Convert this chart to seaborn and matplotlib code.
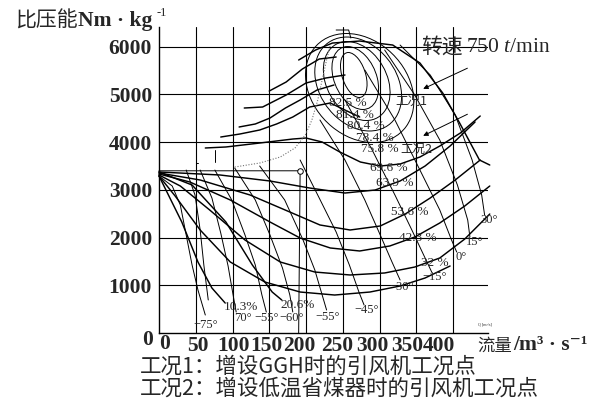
import matplotlib
matplotlib.use("Agg")
import matplotlib.pyplot as plt
import matplotlib.transforms as mtransforms
from matplotlib.patches import Ellipse
import seaborn as sns
import pandas as pd

# ---------------- data (flow m3/s, specific energy Nm/kg) ----------------
x_ticks = [50, 100, 150, 200, 250, 300, 350, 400]
y_ticks = [1000, 2000, 3000, 4000, 5000, 6000]

# inner efficiency islands: centre flow, centre energy, width, height, tilt
eff_island_labels = ["82.5 %", "81.4 %", "80.4 %", "78.4 %", "75.8 %"]
eff_island_cx = [265, 267, 269, 271, 273]
eff_island_cy = [5408, 5345, 5282, 5219, 5135]
eff_island_w = [33, 60, 87, 114, 143]
eff_island_h = [943, 1320, 1656, 1970, 2285]
eff_island_tilt = [0.9, 0.9, 0.9, 0.9, 0.9]
eff_island_lab_x = [257, 267, 282, 294, 301]
eff_island_lab_y = [4821, 4569, 4339, 4087, 3857]

# open efficiency curves
eff_open = {
    "69.6 %": ([63, 91, 137, 182, 200, 222, 246, 274, 301, 328, 355, 382, 410, 437],
               [3878, 3899, 3982, 4066, 4087, 4003, 3794, 3584, 3500, 3542, 3689, 3919, 4192, 4548]),
    "63.9 %": ([0, 83, 151, 205, 253, 294, 328, 362, 396, 430],
               [3375, 3312, 3186, 3039, 2934, 2997, 3186, 3500, 3919, 4423]),
    "53.6 %": ([0, 56, 124, 178, 219, 260, 301, 335, 369, 403, 437],
               [3354, 3207, 2892, 2536, 2264, 2159, 2243, 2494, 2830, 3207, 3626]),
    "42.3 %": ([0, 42, 97, 151, 192, 233, 273, 314, 348, 382, 416, 450],
               [3333, 3165, 2788, 2327, 1991, 1782, 1719, 1824, 2012, 2306, 2662, 3081]),
    "32 %": ([0, 29, 69, 117, 165, 212, 260, 307, 348, 382, 416, 450],
             [3312, 3081, 2578, 1949, 1488, 1278, 1216, 1258, 1383, 1572, 1970, 2494]),
    "low": ([0, 22, 56, 97, 144, 192, 239, 287, 328, 362, 396],
            [3291, 2871, 2159, 1488, 1069, 859, 796, 859, 985, 1153, 1404]),
    "20.6%": ([0, 45, 91, 127, 154, 167],
              [3375, 3102, 2327, 1425, 859, 692]),
    "10.3%": ([0, 31, 53, 72, 90],
              [3291, 2327, 1488, 943, 629]),
}
eff_open_lab = {
    "69.6 %": (312, 3458), "63.9 %": (321, 3144), "53.6 %": (341, 2536),
    "42.3 %": (352, 1991), "32 %": (375, 1467), "20.6%": (188, 587),
    "10.3%": (112, 545),
}

# rising stall-side branches
stall_branches = [
    ([84, 110, 137, 160, 182, 205, 233, 253, 273],
     [4108, 4171, 4255, 4381, 4527, 4737, 4821, 4674, 4527]),
    ([109, 131, 151, 172, 192, 215, 238],
     [4318, 4381, 4506, 4716, 4884, 5093, 5198]),
    ([116, 141, 173, 200, 227, 253],
     [4716, 4737, 4988, 5240, 5345, 5408]),
    ([150, 173, 195, 218, 241],
     [5072, 5261, 5533, 5743, 5785]),
    ([190, 213, 236, 273, 318, 355, 386, 409, 436, 450],
     [5722, 5932, 6078, 6120, 6036, 5659, 5030, 4402, 3626, 3521]),
]
# short stall drops
drops = [([50, 50, 53], [3794, 3563, 3563]), ([76, 76], [3836, 3585])]

# blade-angle curves
blade = {
    "-75a": ([0, 18, 29, 37, 45, 53, 63], [3290, 3081, 2683, 2054, 1425, 901, 377]),
    "-75b": ([37, 49, 56, 61, 67], [3416, 2892, 2159, 1425, 692]),
    "-70": ([56, 72, 84, 94, 102, 105], [3416, 2829, 2096, 1404, 692, 440]),
    "-65": ([76, 99, 117, 131, 140, 146], [3416, 2788, 2054, 1425, 796, 440]),
    "-60": ([103, 131, 151, 168, 178, 182], [3458, 2788, 2054, 1362, 796, 440]),
    "-55": ([137, 171, 196, 212, 222, 228], [3500, 2788, 1949, 1320, 796, 482]),
    "-45": ([192, 218, 241, 259, 272, 279], [3626, 2829, 2117, 1425, 859, 587]),
    "-30": ([219, 253, 280, 301, 317, 328], [4464, 3626, 2788, 2054, 1488, 1111]),
    "-15": ([253, 290, 321, 344, 362, 371], [4884, 3836, 2892, 2159, 1572, 1278]),
    "0": ([280, 321, 355, 382, 398, 405], [5512, 4464, 3416, 2578, 1949, 1698]),
    "15": ([307, 348, 382, 406, 420, 423], [5932, 4988, 4045, 3102, 2368, 2012]),
    "30": ([328, 369, 403, 426, 439, 443], [6036, 5408, 4569, 3626, 2892, 2473]),
}
blade_lab_text = ["-75°", "70°", "-55°", "-60°", "-55°", "-45°", "-30°", "-15°", "0°", "15°", "30°"]
blade_lab_text = [t.replace("-", "\u2212") for t in blade_lab_text]
blade_lab_x = [63, 114, 147, 181, 229, 282, 330, 375, 411, 429, 449]
blade_lab_y = [168, 314, 314, 314, 335, 482, 964, 1174, 1593, 1907, 2368]

# surge (dotted) line
surge_x = [103, 137, 165, 185, 199, 208, 216, 222, 228, 233]
surge_y = [3479, 3563, 3689, 3878, 4150, 4464, 4884, 5303, 5722, 6036]

# limit line with marker
limit_x = [0, 192, 190]
limit_y = [3400, 3400, 0]

# top hook
hook_x = [241, 258, 261]
hook_y = [6351, 6351, 6183]

# operating points
op_text = ["工况1", "工况2"]
op_lab_x = [321, 328]
op_lab_y = [4863, 3857]
op_arrow_from_x = [423, 423]
op_arrow_from_y = [5575, 4611]
op_arrow_to_x = [356, 356]
op_arrow_to_y = [5093, 4108]

# ---------------- figure ----------------
sns.set_theme(style="white")
plt.rcParams["font.family"] = ["Liberation Serif", "DejaVu Serif"]
plt.rcParams["mathtext.fontset"] = "custom"
plt.rcParams["mathtext.rm"] = "Liberation Serif"
plt.rcParams["mathtext.it"] = "Liberation Serif:italic"
CJK = ["Noto Sans CJK SC", "DejaVu Sans"]

fig = plt.figure(figsize=(6.11, 4.03), dpi=100)
ax = fig.add_axes([159 / 611, 70 / 403, 329 / 611, 306 / 403])
ax.set_xlim(0, 447.6)
ax.set_ylim(0, 6414)
ax.set_facecolor("white")

thin = 0.7
thick = 1.05

def draw(xs, ys, lw, ls="-", color="black"):
    df = pd.DataFrame({"x": xs, "y": ys})
    sns.lineplot(data=df, x="x", y="y", sort=False, estimator=None,
                 color=color, lw=lw, ls=ls, ax=ax, clip_on=False)

for cx, cy, w, h, a in zip(eff_island_cx, eff_island_cy, eff_island_w, eff_island_h, eff_island_tilt):
    ax.add_patch(Ellipse((cx, cy), w, h, angle=a, fill=False, ec="black", lw=thin))
for lab, lx, ly in zip(eff_island_labels, eff_island_lab_x, eff_island_lab_y):
    ax.text(lx, ly, lab, fontsize=9.5, ha="center", va="center")

for k, (xs, ys) in eff_open.items():
    draw(xs, ys, thick)
for k, (lx, ly) in eff_open_lab.items():
    ax.text(lx, ly, k, fontsize=9.5, ha="center", va="center")

for xs, ys in stall_branches:
    draw(xs, ys, thick)
for xs, ys in drops:
    draw(xs, ys, thin)

for k, (xs, ys) in blade.items():
    draw(xs, ys, thin)
for t, lx, ly in zip(blade_lab_text, blade_lab_x, blade_lab_y):
    ax.text(lx, ly, t, fontsize=9, ha="center", va="center", clip_on=False)

draw(surge_x, surge_y, 0.8, ls=(0, (1, 1.5)), color="0.45")
draw(limit_x, limit_y, thin)
draw(hook_x, hook_y, thin)
ax.plot([limit_x[1]], [limit_y[1]], marker="o", ms=4, mfc="white", mec="black", mew=0.7)

for t, lx, ly in zip(op_text, op_lab_x, op_lab_y):
    ax.text(lx, ly, t, fontsize=9, ha="left", va="center", family=CJK)
for fx, fy, tx, ty in zip(op_arrow_from_x, op_arrow_from_y, op_arrow_to_x, op_arrow_to_y):
    ax.annotate("", xy=(tx, ty), xytext=(fx, fy),
                arrowprops=dict(arrowstyle="-|>", lw=0.7, color="black", mutation_scale=7))

# axes cosmetics
ax.set_xticks(x_ticks)
ax.set_yticks(y_ticks)
ax.set_xticklabels([str(v) for v in x_ticks], fontsize=15.5, fontweight="bold")
ax.set_yticklabels([str(v) for v in y_ticks], fontsize=15.5, fontweight="bold")
ax.tick_params(axis="x", length=0, pad=2)
ax.tick_params(axis="y", length=0, pad=5)
# the printed x labels sit a little left of their grid lines (compressed typesetting)
shift_px = [2, 1, -3, -7, -6, -7, -9, -14]
for lbl, dx in zip(ax.get_xticklabels(), shift_px):
    lbl.set_transform(lbl.get_transform() + mtransforms.ScaledTranslation(dx / 100, 0, fig.dpi_scale_trans))
ax.grid(True, color="black", lw=0.8)
ax.set_xlabel("")
ax.set_ylabel("")
for s in ["top", "right"]:
    ax.spines[s].set_visible(False)
for s in ["left", "bottom"]:
    ax.spines[s].set_color("black")
    ax.spines[s].set_linewidth(1.0)

# zero labels
ax.text(-15, -150, "0", fontsize=15.5, fontweight="bold", ha="center", va="center", clip_on=False)
ax.text(8, -230, "0", fontsize=15.5, fontweight="bold", ha="center", va="center", clip_on=False)

# titles / axis labels
fig.text(15 / 611, 1 - 21 / 403, "比压能", fontsize=15, family=CJK, ha="left", va="center")
fig.text(78 / 611, 1 - 21 / 403, "Nm · kg", fontsize=15.5, fontweight="bold", ha="left", va="center")
fig.text(157 / 611, 1 - 13 / 403, "-1", fontsize=9, ha="left", va="center")

fig.text(477 / 611, 1 - 346 / 403, "流量", fontsize=12.5, family=CJK, ha="left", va="center")
fig.text(513 / 611, 1 - 345 / 403, "/m³ · s⁻¹", fontsize=15.5, fontweight="bold", ha="left", va="center")
fig.text(478 / 611, 1 - 324 / 403, "Q [m³/s]", fontsize=3, ha="left", va="center")

fig.text(421 / 611, 1 - 47 / 403, "转速", fontsize=15, family=CJK, ha="left", va="center")
fig.text(466 / 611, 1 - 47 / 403, r"750 $\mathit{t}$/min", fontsize=15.5, ha="left", va="center")

fig.text(140 / 611, 1 - 367 / 403, "工况1：增设GGH时的引风机工况点", fontsize=15.5, family=CJK,
         ha="left", va="center")
fig.text(140 / 611, 1 - 389 / 403, "工况2：增设低温省煤器时的引风机工况点", fontsize=15.5, family=CJK,
         ha="left", va="center")

fig.savefig("out.png", dpi=100, facecolor="white")
